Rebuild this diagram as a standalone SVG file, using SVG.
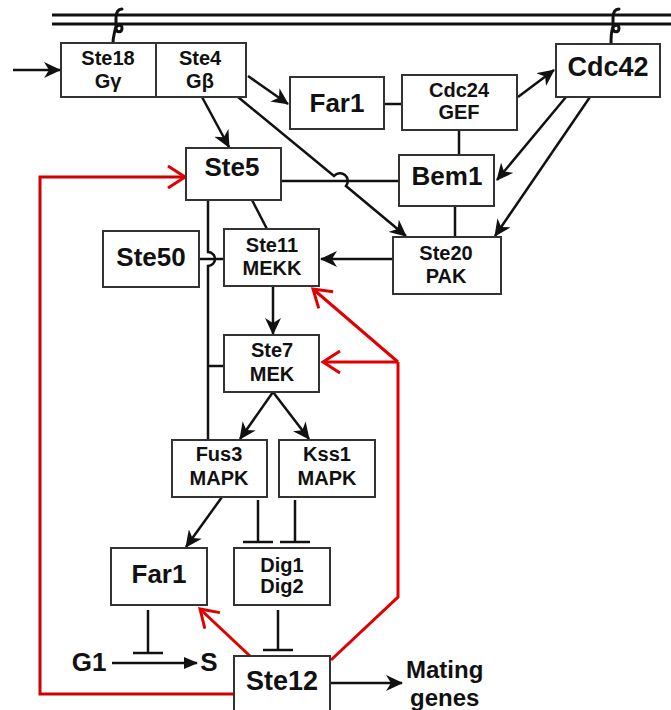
<svg xmlns="http://www.w3.org/2000/svg" width="671" height="710" viewBox="0 0 671 710">
<style>
.box{fill:#fff;stroke:#333;stroke-width:2}
.t{font-family:"Liberation Sans",Arial,sans-serif;font-weight:bold;fill:#111;text-anchor:middle}
.s{font-size:20px}
.b{font-size:26px}
.ln{fill:none;stroke:#111;stroke-width:2.5}
.arr{fill:none;stroke:#111;stroke-width:2.5;marker-end:url(#ah)}
.red{fill:none;stroke:#e00000;stroke-width:3}
.redarr{fill:none;stroke:#e00000;stroke-width:3;marker-end:url(#rh)}
.mem{stroke:#111;stroke-width:3}
.anc{fill:none;stroke:#111;stroke-width:3;stroke-linecap:round}
</style>
<defs>
<marker id="ah" markerUnits="userSpaceOnUse" markerWidth="18" markerHeight="16" viewBox="0 0 18 16" refX="16" refY="8" orient="auto">
<path d="M0,0 L17,8 L0,16 L5,8 z" fill="#111"/>
</marker>
<marker id="th" markerUnits="userSpaceOnUse" markerWidth="14" markerHeight="12" viewBox="0 0 14 12" refX="13" refY="6" orient="auto">
<path d="M0,0 L14,6 L0,12 z" fill="#111"/>
</marker>
<marker id="rh" markerUnits="userSpaceOnUse" markerWidth="22" markerHeight="26" viewBox="0 0 22 26" refX="19" refY="13" orient="auto">
<path d="M2,2 L19,13 L2,24" fill="none" stroke="#e00000" stroke-width="3"/>
</marker>
</defs>

<g id="membrane">
<line class="mem" x1="52" y1="15" x2="671" y2="15"/>
<line class="mem" x1="52" y1="24" x2="671" y2="24"/>
<path class="anc" d="M122,9 C118,9 116,12 116,18 L116,28 C116,33 122,33 122,28 C122,24 116,24 115,30 C114,35 113,38 113,43"/>
<path class="anc" d="M619,9 C615,9 613,12 613,18 L613,28 C613,33 619,33 619,28 C619,24 613,24 612,30 C611,35 611,39 611,44"/>
</g>

<g id="connectors">
<line class="arr" x1="13" y1="70" x2="60" y2="70"/>
<line class="arr" x1="248" y1="76" x2="288" y2="104"/>
<line class="arr" x1="202" y1="97" x2="229" y2="147"/>
<path class="arr" d="M238,97 L334,176 A7,7 0 0 1 346,186 L406,236"/>
<line class="ln" x1="281" y1="181" x2="399" y2="181"/>
<line class="ln" x1="384" y1="104" x2="402" y2="104"/>
<line class="ln" x1="459" y1="130" x2="459" y2="155"/>
<line class="ln" x1="455" y1="206" x2="455" y2="237"/>
<line class="arr" x1="518" y1="97" x2="554" y2="70"/>
<line class="arr" x1="566" y1="97" x2="497" y2="180"/>
<line class="arr" x1="590" y1="97" x2="495" y2="236"/>
<line class="arr" x1="393" y1="259" x2="321" y2="259"/>
<line class="ln" x1="252" y1="200" x2="267" y2="229"/>
<path class="ln" d="M208,200 L208,252 A7,7 0 0 1 208,266 L208,440"/>
<line class="ln" x1="199" y1="259" x2="224" y2="259"/>
<line class="ln" x1="208" y1="366" x2="224" y2="366"/>
<line class="arr" x1="273" y1="286" x2="273" y2="334"/>
<line class="arr" x1="273" y1="392" x2="240" y2="439"/>
<line class="arr" x1="273" y1="392" x2="309" y2="439"/>
<line class="arr" x1="222" y1="497" x2="186" y2="547"/>
<line class="ln" x1="258" y1="500" x2="258" y2="542"/>
<line class="ln" x1="243" y1="542" x2="273" y2="542"/>
<line class="ln" x1="295" y1="500" x2="295" y2="542"/>
<line class="ln" x1="280" y1="542" x2="310" y2="542"/>
<line class="ln" x1="278" y1="610" x2="278" y2="650"/>
<line class="ln" x1="263" y1="650" x2="293" y2="650"/>
<line class="ln" x1="148" y1="610" x2="148" y2="653"/>
<line class="ln" x1="133" y1="653" x2="163" y2="653"/>
<line x1="112" y1="663" x2="197" y2="663" stroke="#111" stroke-width="2.5" marker-end="url(#th)"/>
<line class="arr" x1="330" y1="683" x2="402" y2="683"/>
<path class="redarr" style="stroke:#d00000" d="M234,694 L40,694 L40,177 L185,177"/>
<path class="red" d="M331,660 L398,597 L398,362"/>
<line class="redarr" x1="398" y1="362" x2="323" y2="362"/>
<line class="redarr" x1="398" y1="362" x2="313" y2="289"/>
<line class="redarr" x1="250" y1="656" x2="200" y2="609"/>
</g>

<g id="ste18-ste4">
<rect class="box" x="61" y="43" width="185" height="54"/>
<line x1="156" y1="43" x2="156" y2="97" stroke="#333" stroke-width="2"/>
<text class="t s" x="108" y="65">Ste18</text>
<text class="t s" x="108" y="88">Gγ</text>
<text class="t s" x="200" y="65">Ste4</text>
<text class="t s" x="200" y="88">Gβ</text>
</g>
<g id="far1-top"><rect class="box" x="290" y="77" width="94" height="52"/><text class="t b" x="337" y="112">Far1</text></g>
<g id="cdc24"><rect class="box" x="402" y="75" width="115" height="55"/><text class="t s" x="459" y="97">Cdc24</text><text class="t s" x="459" y="119">GEF</text></g>
<g id="cdc42"><rect class="box" x="556" y="44" width="104" height="53"/><text class="t" style="font-size:27px" x="608" y="76">Cdc42</text></g>
<g id="bem1"><rect class="box" x="399" y="155" width="95" height="51"/><text class="t b" x="447" y="185">Bem1</text></g>
<g id="ste20"><rect class="box" x="393" y="237" width="108" height="57"/><text class="t s" x="446" y="260">Ste20</text><text class="t s" x="446" y="283">PAK</text></g>
<g id="ste5"><rect class="box" x="186" y="148" width="95" height="52"/><text class="t b" x="232" y="176">Ste5</text></g>
<g id="ste50"><rect class="box" x="103" y="231" width="96" height="56"/><text class="t b" x="151" y="266">Ste50</text></g>
<g id="ste11"><rect class="box" x="224" y="229" width="95" height="57"/><text class="t s" x="272" y="252">Ste11</text><text class="t s" x="272" y="275">MEKK</text></g>
<g id="ste7"><rect class="box" x="224" y="335" width="95" height="57"/><text class="t s" x="272" y="357">Ste7</text><text class="t s" x="272" y="381">MEK</text></g>
<g id="fus3"><rect class="box" x="172" y="440" width="95" height="57"/><text class="t s" x="219" y="461">Fus3</text><text class="t s" x="219" y="485">MAPK</text></g>
<g id="kss1"><rect class="box" x="279" y="440" width="96" height="57"/><text class="t s" x="327" y="461">Kss1</text><text class="t s" x="327" y="485">MAPK</text></g>
<g id="far1-bottom"><rect class="box" x="111" y="548" width="96" height="57"/><text class="t b" x="159" y="583">Far1</text></g>
<g id="dig"><rect class="box" x="234" y="548" width="96" height="57"/><text class="t s" x="282" y="572">Dig1</text><text class="t s" x="282" y="593">Dig2</text></g>
<g id="ste12"><rect class="box" x="234" y="656" width="96" height="60"/><text class="t" style="font-size:27px" x="282" y="690">Ste12</text></g>
<g id="cell-cycle">
<text class="t b" x="89" y="671">G1</text>
<text class="t b" x="209" y="671">S</text>
</g>
<g id="mating-genes">
<text class="t" style="font-size:24px;text-anchor:start" x="406" y="678">Mating</text>
<text class="t" style="font-size:24px;text-anchor:start" x="410" y="706">genes</text>
</g>
</svg>
